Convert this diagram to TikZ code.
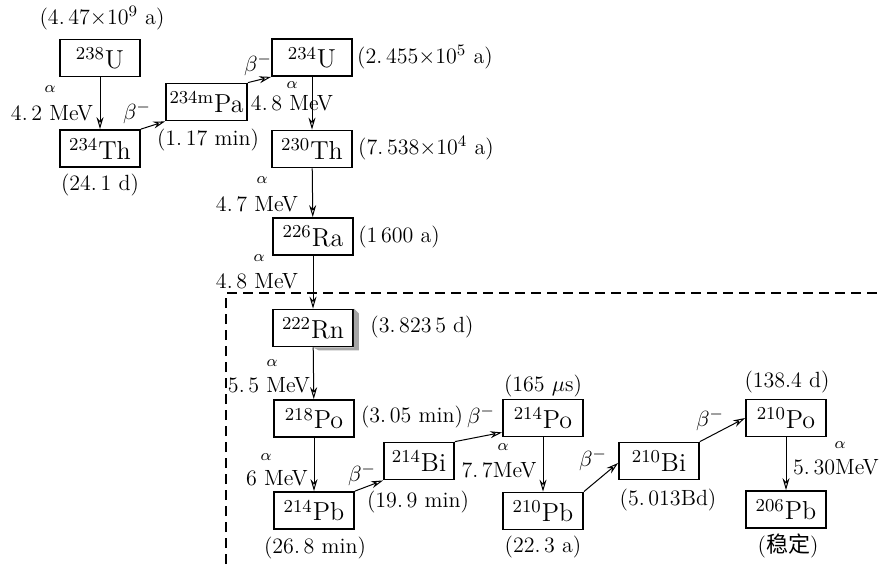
\documentclass[tikz,border=0pt]{standalone}
\usepackage{fontspec}
\usepackage{tikz}
\newfontfamily\cjk{Noto Sans CJK SC}
\usetikzlibrary{arrows.meta}

\begin{document}
\begin{tikzpicture}[x=0.5pt, y=-0.5pt,
  nuc/.style={draw, line width=0.9pt, minimum width=40pt, minimum height=18.5pt, inner sep=1pt, font=\fontsize{13}{15}\selectfont},
  decay/.style={-{Stealth[open,length=6pt,width=3.5pt]}, line width=0.5pt},
  lbl/.style={inner sep=0pt, font=\fontsize{11}{13}\selectfont},
  alp/.style={font=\footnotesize, inner sep=0pt}]
  \useasboundingbox (0,0) rectangle (879,564);

  % Uranium series boxes
  \node[nuc] (U238) at (100, 58) {\textsuperscript{238}U};
  \node[nuc] (Th234) at (100, 148.5) {\textsuperscript{234}Th};
  \node[nuc, minimum width=40.5pt] (Pa234) at (206.5, 102) {\textsuperscript{234m}Pa};
  \node[nuc] (U234) at (312, 57.5) {\textsuperscript{234}U};
  \node[nuc] (Th230) at (312, 149) {\textsuperscript{230}Th};
  \node[nuc] (Ra226) at (313, 236.5) {\textsuperscript{226}Ra};
  \node[nuc] (Rn222) at (313, 328) {\textsuperscript{222}Rn};
  \node[nuc] (Po218) at (314, 418.5) {\textsuperscript{218}Po};
  \node[nuc] (Pb214) at (314, 510.5) {\textsuperscript{214}Pb};
  \node[nuc, minimum width=35pt] (Bi214) at (419, 461) {\textsuperscript{214}Bi};
  \node[nuc] (Po214) at (543, 418) {\textsuperscript{214}Po};
  \node[nuc] (Pb210) at (543, 511) {\textsuperscript{210}Pb};
  \node[nuc] (Bi210) at (659, 461) {\textsuperscript{210}Bi};
  \node[nuc] (Po210) at (786, 418) {\textsuperscript{210}Po};
  \node[nuc] (Pb206) at (786, 509.5) {\textsuperscript{206}Pb};

  % shadow on the radon box
  \fill[gray!70] (Rn222.north east) -- ++(2.5pt,-2.5pt) -- ([xshift=2.5pt,yshift=-1.5pt]Rn222.south east)
    -- ([xshift=3pt,yshift=-1.5pt]Rn222.south) -- (Rn222.south) -- (Rn222.south east) -- cycle;

  % region boundary
  \draw[dash pattern=on 5pt off 3pt, line width=0.6pt] (226,564) -- (226,293) -- (879,293);

  % alpha decays
  \draw[decay] (U238) -- (Th234);
  \draw[decay] (U234) -- (Th230);
  \draw[decay] (Th230) -- (Ra226);
  \draw[decay] (Ra226) -- (Rn222);
  \draw[decay] (Rn222) -- (Po218);
  \draw[decay] (Po218) -- (Pb214);
  \draw[decay] (Po214) -- (Pb210);
  \draw[decay] (Po210) -- (Pb206);

  % beta decays
  \draw[decay] (Th234.north east) -- (Pa234.south west);
  \draw[decay] (Pa234.north east) -- (U234.south west);
  \draw[decay] (Pb214.north east) -- (Bi214.south west);
  \draw[decay] (Bi214.north east) -- ([yshift=2.5pt]Po214.south west);
  \draw[decay] (Pb210.north east) -- ([yshift=-1pt]Bi210.west);
  \draw[decay] (Bi210.north east) -- (Po210.west);

  % half-lives
  \node[lbl] at (102, 18) {(4.\,47$\times$10$^9$ a)};
  \node[lbl] at (100, 185) {(24.\,1 d)};
  \node[lbl] at (208, 140) {(1.\,17 min)};
  \node[lbl] at (425, 57) {(2.\,455$\times$10$^5$ a)};
  \node[lbl] at (426, 148) {(7.\,538$\times$10$^4$ a)};
  \node[lbl] at (399, 237) {(1\,600 a)};
  \node[lbl] at (422, 327) {(3.\,823\,5 d)};
  \node[lbl] at (412, 417) {(3.\,05 min)};
  \node[lbl] at (418, 502) {(19.\,9 min)};
  \node[lbl] at (315, 548) {(26.\,8 min)};
  \node[lbl] at (543, 386) {(165 $\mu$s)};
  \node[lbl] at (543, 547) {(22.\,3 a)};
  \node[lbl] at (668, 500) {(5.\,013Bd)};
  \node[lbl] at (787, 382) {(138.4 d)};
  \node[lbl] at (788, 546) {({\cjk 稳定})};

  % decay energies
  \node[alp] at (50, 89) {$\alpha$};
  \node[lbl] at (52, 113) {4.\,2 MeV};
  \node[alp] at (292, 85) {$\alpha$};
  \node[lbl] at (292, 103) {4.\,8 MeV};
  \node[alp] at (262, 180) {$\alpha$};
  \node[lbl] at (257, 204) {4.\,7 MeV};
  \node[alp] at (259, 258) {$\alpha$};
  \node[lbl] at (257, 281) {4.\,8 MeV};
  \node[alp] at (272, 363) {$\alpha$};
  \node[lbl] at (269, 385) {5.\,5 MeV};
  \node[alp] at (266, 457) {$\alpha$};
  \node[lbl] at (277, 478) {6 MeV};
  \node[alp] at (503, 447) {$\alpha$};
  \node[lbl] at (499, 470) {7.\,7MeV};
  \node[alp] at (840, 445) {$\alpha$};
  \node[lbl] at (836, 467) {5.\,30MeV};

  % beta labels
  \node[lbl] at (137, 113) {$\beta^-$};
  \node[lbl] at (258, 65) {$\beta^-$};
  \node[lbl] at (481, 417) {$\beta^-$};
  \node[lbl] at (362, 475) {$\beta^-$};
  \node[lbl] at (593, 460) {$\beta^-$};
  \node[lbl] at (710, 420) {$\beta^-$};
\end{tikzpicture}
\end{document}
